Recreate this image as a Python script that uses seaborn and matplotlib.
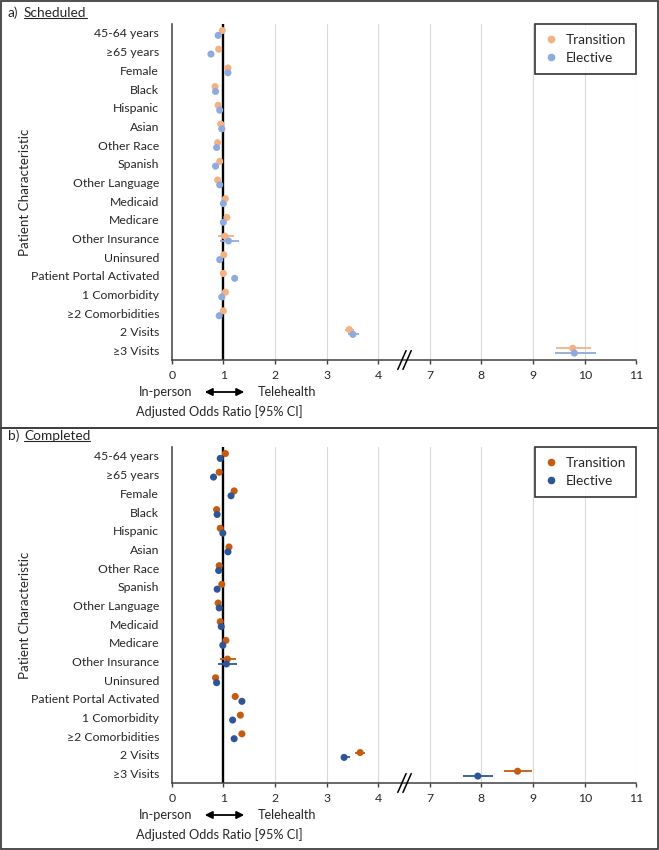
import matplotlib
matplotlib.use('Agg')
import matplotlib.pyplot as plt
import seaborn as sns
import numpy as np
import pandas as pd
from matplotlib.lines import Line2D
from matplotlib.patches import Rectangle, FancyArrowPatch

labels = ['45-64 years', '≥65 years', 'Female', 'Black', 'Hispanic', 'Asian',
          'Other Race', 'Spanish', 'Other Language', 'Medicaid', 'Medicare',
          'Other Insurance', 'Uninsured', 'Patient Portal Activated',
          '1 Comorbidity', '≥2 Comorbidities', '2 Visits', '≥3 Visits']

# a) Scheduled
sched_trans = [0.98, 0.91, 1.09, 0.84, 0.90, 0.95, 0.89, 0.93, 0.89, 1.04, 1.07, 1.03, 1.01, 1.00, 1.04, 1.00, 3.44, 9.77]
sched_trans_lo = [0.95, 0.87, 1.06, 0.80, 0.86, 0.91, 0.85, 0.89, 0.85, 1.00, 1.04, 0.89, 0.97, 0.97, 1.01, 0.97, 3.36, 9.45]
sched_trans_hi = [1.01, 0.95, 1.12, 0.88, 0.94, 0.99, 0.93, 0.97, 0.93, 1.08, 1.10, 1.20, 1.05, 1.03, 1.07, 1.03, 3.53, 10.12]
sched_elec = [0.90, 0.76, 1.09, 0.85, 0.93, 0.97, 0.87, 0.85, 0.93, 1.00, 1.00, 1.10, 0.93, 1.22, 0.97, 0.92, 3.51, 9.80]
sched_elec_lo = [0.87, 0.72, 1.06, 0.81, 0.89, 0.93, 0.83, 0.81, 0.89, 0.97, 0.97, 0.93, 0.89, 1.19, 0.94, 0.89, 3.42, 9.43]
sched_elec_hi = [0.93, 0.80, 1.12, 0.89, 0.97, 1.01, 0.91, 0.89, 0.97, 1.03, 1.03, 1.30, 0.97, 1.25, 1.00, 0.95, 3.62, 10.21]

# b) Completed
comp_trans = [1.04, 0.92, 1.21, 0.87, 0.94, 1.11, 0.92, 0.97, 0.90, 0.94, 1.05, 1.08, 0.85, 1.23, 1.33, 1.36, 3.65, 8.70]
comp_trans_lo = [1.01, 0.88, 1.17, 0.83, 0.90, 1.07, 0.88, 0.93, 0.86, 0.90, 1.02, 0.94, 0.81, 1.20, 1.30, 1.33, 3.56, 8.44]
comp_trans_hi = [1.07, 0.96, 1.25, 0.91, 0.98, 1.15, 0.96, 1.01, 0.94, 0.98, 1.08, 1.25, 0.89, 1.26, 1.36, 1.39, 3.75, 8.97]
comp_elec = [0.94, 0.81, 1.15, 0.88, 0.99, 1.09, 0.91, 0.88, 0.92, 0.96, 0.99, 1.06, 0.87, 1.36, 1.18, 1.21, 3.34, 7.93]
comp_elec_lo = [0.91, 0.77, 1.11, 0.84, 0.95, 1.05, 0.87, 0.84, 0.88, 0.92, 0.96, 0.89, 0.83, 1.33, 1.15, 1.18, 3.27, 7.64]
comp_elec_hi = [0.97, 0.85, 1.19, 0.92, 1.03, 1.13, 0.95, 0.92, 0.96, 1.00, 1.02, 1.27, 0.91, 1.39, 1.21, 1.24, 3.45, 8.22]

tick_vals = [0, 1, 2, 3, 4, 7, 8, 9, 10, 11]

sns.set_style('white')
plt.rcParams['font.family'] = ['Lato', 'DejaVu Sans']

W, H = 659, 850
fig = plt.figure(figsize=(W / 100, H / 100), dpi=100)


def brk(v):
    # broken axis 4 | 7: values from 7 up are moved 2 units left
    v = np.asarray(v, dtype=float)
    return np.where(v >= 6, v - 2, v)


def fx(px):
    return px / W


def fy(py):
    return 1 - py / H


def panel(top, letter, name, trans, t_lo, t_hi, elec, e_lo, e_hi, c_t, c_e):
    ax = fig.add_axes([fx(171.7), fy(top + 336), fx(636.3) - fx(171.7), 336 / H])
    rows = np.arange(len(labels))
    df = pd.DataFrame({
        'x': np.concatenate([brk(trans), brk(elec)]),
        'y': np.concatenate([rows - 0.13, rows + 0.13]),
        'group': ['Transition'] * len(rows) + ['Elective'] * len(rows),
    })
    for vals, lo, hi, yy, c in [(trans, t_lo, t_hi, rows - 0.13, c_t),
                                (elec, e_lo, e_hi, rows + 0.13, c_e)]:
        x = brk(vals)
        ax.errorbar(x, yy, xerr=[x - brk(lo), brk(hi) - x], fmt='none',
                    ecolor=c, elinewidth=1.3, capsize=0, zorder=2)
    sns.scatterplot(data=df, x='x', y='y', hue='group',
                    palette={'Transition': c_t, 'Elective': c_e},
                    s=26, edgecolor='none', legend=False, ax=ax, zorder=3)

    for g in range(2, 10):
        ax.axvline(g, color='#d9d9d9', lw=0.8, zorder=0)
    ax.axvline(1, color='black', lw=1.7, zorder=1)

    ax.set_xlim(0, 9)
    ax.set_ylim(17.5, -0.48)
    ax.set_xticks(range(10))
    ax.set_xticklabels([str(t) for t in tick_vals])
    ax.set_yticks(rows)
    ax.set_yticklabels(labels)
    ax.set_xlabel('')
    ax.set_ylabel('')
    ax.tick_params(axis='y', length=0, pad=9, labelsize=8.8, colors='#262626')
    ax.tick_params(axis='x', length=3, width=1, direction='out', pad=4,
                   labelsize=8.8, colors='#262626', color='#404040', bottom=True)
    for s in ['top', 'right']:
        ax.spines[s].set_visible(False)
    for s in ['left', 'bottom']:
        ax.spines[s].set_color('#404040')
        ax.spines[s].set_linewidth(1.1)

    # break marks
    tr = ax.get_xaxis_transform()
    for x0 in [4.38, 4.48]:
        ax.add_line(Line2D([x0, x0 + 0.16], [-0.028, 0.028], transform=tr,
                           color='black', lw=1.1, clip_on=False, zorder=5))

    handles = [Line2D([], [], marker='o', ls='none', color=c_t, markersize=4.5),
               Line2D([], [], marker='o', ls='none', color=c_e, markersize=4.5)]
    leg = ax.legend(handles, ['Transition', 'Elective'], loc='upper right',
                    bbox_to_anchor=(1, 1), borderaxespad=0, fancybox=False,
                    frameon=True, fontsize=9.8, handlelength=0.9,
                    handletextpad=0.6, borderpad=0.75, labelspacing=0.4)
    leg.get_frame().set_edgecolor('black')
    leg.get_frame().set_linewidth(1.2)
    for t in leg.get_texts():
        t.set_color('#262626')

    # labels under the axis
    fig.text(fx(192), fy(top + 368), 'In-person', ha='right', va='center',
             fontsize=9.2, color='#262626')
    fig.text(fx(258), fy(top + 368), 'Telehealth', ha='left', va='center',
             fontsize=9.2, color='#262626')
    fig.add_artist(FancyArrowPatch(
        (fx(202), fy(top + 368)), (fx(247), fy(top + 368)),
        transform=fig.transFigure, arrowstyle='<|-|>', mutation_scale=11,
        color='black', lw=1.3))
    fig.text(fx(136), fy(top + 388), 'Adjusted Odds Ratio [95% CI]',
             ha='left', va='center', fontsize=9.2, color='#262626')
    fig.text(fx(25), fy(top + 168), 'Patient Characteristic', rotation=90,
             ha='center', va='center', fontsize=9.6, color='#262626')

    # panel title, name underlined below
    fig.text(fx(8), fy(top - 11), letter, ha='left', va='center',
             fontsize=9.8, color='#262626')
    t = fig.text(fx(24), fy(top - 11), name, ha='left', va='center',
                 fontsize=9.8, color='#262626')
    return t


t1 = panel(24, 'a)', 'Scheduled', sched_trans, sched_trans_lo, sched_trans_hi,
           sched_elec, sched_elec_lo, sched_elec_hi, '#f4b183', '#8faadc')
t2 = panel(447, 'b)', 'Completed', comp_trans, comp_trans_lo, comp_trans_hi,
           comp_elec, comp_elec_lo, comp_elec_hi, '#c55a11', '#2f5597')

# panel frames
for y0, y1 in [(1, 428), (428, 849)]:
    fig.add_artist(Rectangle((fx(1), fy(y1)), fx(657), (y1 - y0) / H,
                             transform=fig.transFigure, fill=False,
                             edgecolor='#404040', lw=1.3))

fig.canvas.draw()
r = fig.canvas.get_renderer()
for t in [t1, t2]:
    bb = t.get_window_extent(r).transformed(fig.transFigure.inverted())
    fig.add_artist(Line2D([bb.x0, bb.x1], [bb.y0 + 0.0015, bb.y0 + 0.0015],
                          transform=fig.transFigure, color='#262626', lw=0.8))

fig.savefig('out.png', dpi=100)
